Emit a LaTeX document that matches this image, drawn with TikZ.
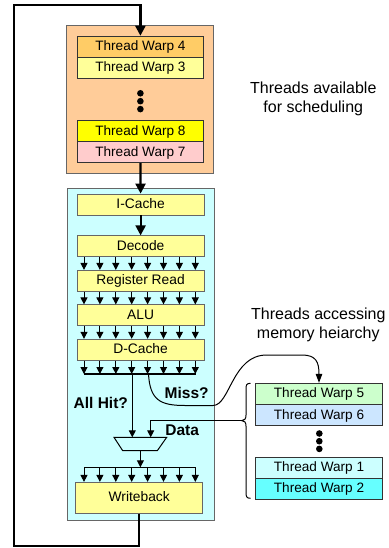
\documentclass[tikz,border=0pt]{standalone}
\usepackage{fontspec}
\setmainfont{Liberation Sans}
\usetikzlibrary{arrows.meta,calc}
\definecolor{orangebg}{HTML}{FFCC99}
\definecolor{wfour}{HTML}{FFCC66}
\definecolor{wthree}{HTML}{FFFF99}
\definecolor{weight}{HTML}{FFFF00}
\definecolor{wseven}{HTML}{FFCCCC}
\definecolor{cyanbg}{HTML}{CCFFFF}
\definecolor{stagec}{HTML}{FFFF99}
\definecolor{wfive}{HTML}{CCFFCC}
\definecolor{wsix}{HTML}{CCE6FF}
\definecolor{wone}{HTML}{CCFFFF}
\definecolor{wtwo}{HTML}{66FFFF}
\begin{document}
\begin{tikzpicture}[x=1pt,y=-1pt,
  bigbox/.style={draw=black!60, line width=0.8pt, inner sep=0pt},
  warp/.style={draw=black!80, line width=0.9pt, inner sep=0pt, minimum width=126.5, minimum height=21,
    font=\fontsize{13.6}{16}\selectfont, text height=9.8pt, text depth=1.8pt},
  stagebox/.style={draw=black!60, line width=0.8pt, fill=stagec, inner sep=0pt, minimum width=126.7, minimum height=21,
    font=\fontsize{13.8}{16}\selectfont, text height=9.8pt, text depth=1.8pt},
  dot/.style={circle, fill=black, inner sep=0pt, minimum size=6.6},
  note/.style={align=center, font=\fontsize{16}{18.6}\selectfont},
  boldlbl/.style={font=\bfseries\fontsize{15.5}{18}\selectfont},
  thick arrow/.style={line width=2.2pt, -{Triangle[length=10,width=10]}},
  sarrow/.style={line width=1pt, -{Triangle[length=7,width=7]}},
  tline/.style={line width=1pt},
  bar/.style={line width=1.6pt},
]
\useasboundingbox (0,0) rectangle (388,548);

% scheduler box
\node[bigbox, fill=orangebg, minimum width=146.6, minimum height=147.6] (sched) at (140,99.5) {};
\node[warp, fill=wfour] (w4) at (140.4,46.7) {Thread Warp 4};
\node[warp, fill=wthree] (w3) at (140.4,67.8) {Thread Warp 3};
\node[dot] (sd1) at (140.4,93.3) {};
\node[dot] (sd2) at (140.4,101.2) {};
\node[dot] (sd3) at (140.4,109.1) {};
\node[warp, fill=weight] (w8) at (140.4,131.2) {Thread Warp 8};
\node[warp, fill=wseven] (w7) at (140.4,152.2) {Thread Warp 7};

% pipeline box
\node[bigbox, fill=cyanbg, minimum width=146.7, minimum height=332.7] (pipe) at (140.7,354.4) {};
\node[stagebox] (icache) at (140.6,204.5) {I-Cache};
\node[stagebox] (decode) at (140.6,246.3) {Decode};
\node[stagebox] (regread) at (140.6,280.8) {Register Read};
\node[stagebox] (alu) at (140.6,315.3) {ALU};
\node[stagebox] (dcache) at (140.6,349.7) {D-Cache};
\node[stagebox, minimum width=127, minimum height=31] (wb) at (139.2,497.8) {Writeback};

% memory warps
\node[warp, fill=wfive] (w5) at (319,393.8) {Thread Warp 5};
\node[warp, fill=wsix] (w6) at (319,415) {Thread Warp 6};
\node[dot] (md1) at (319.3,433.5) {};
\node[dot] (md2) at (319.3,441.2) {};
\node[dot] (md3) at (319.3,448.9) {};
\node[warp, fill=wone] (w1) at (319,467.8) {Thread Warp 1};
\node[warp, fill=wtwo] (w2) at (319,488.8) {Thread Warp 2};

% notes
\node[note] (n1) at (313.3,98.7) {Threads available\\for scheduling};
\node[note] (n2) at (318.3,324.6) {Threads accessing\\memory heiarchy};
\node[boldlbl] (allhit) at (100.8,402.7) {All Hit?};
\node[boldlbl] (miss) at (186.7,393.3) {Miss?};
\node[boldlbl] (data) at (182.2,430) {Data};

% coordinates
\foreach \i in {0,...,7} {
  \pgfmathsetmacro\xx{84+15.9*\i}
  \coordinate (col\i) at (\xx,0);
}
\coordinate (bar1l) at (84,374);
\coordinate (bar1r) at (196,374);
\coordinate (bar2l) at (84,467.3);
\coordinate (bar2r) at (196,467.3);
\coordinate (hit) at (132.3,374);
\coordinate (missstart) at (148.5,374);
\coordinate (datax) at (150.7,0);
\coordinate (muxtl) at (114,437.3);
\coordinate (muxtr) at (166.7,437.3);
\coordinate (muxbr) at (157.3,450.7);
\coordinate (muxbl) at (122.7,450.7);
\coordinate (muxbot) at (140.4,450.7);
\coordinate (bracetip) at (241.7,420.6);
\coordinate (lb) at (14,546);
\coordinate (lt) at (14,4.7);

% main flow
\draw[thick arrow] (wb.south) -- (wb.south |- lb) -- (lb) -- (lt) -- (lt -| w4.north) -- (w4.north);
\draw[thick arrow] (w7.south) -- (icache.north);
\draw[thick arrow] (icache.south) -- (decode.north);

% parallel lanes
\foreach \i in {0,...,7} {
  \draw[sarrow] (decode.south -| col\i) -- (regread.north -| col\i);
  \draw[sarrow] (regread.south -| col\i) -- (alu.north -| col\i);
  \draw[sarrow] (alu.south -| col\i) -- (dcache.north -| col\i);
  \draw[sarrow] (dcache.south -| col\i) -- (bar1l -| col\i);
  \draw[sarrow] (bar2l -| col\i) -- (wb.north -| col\i);
}
\draw[bar] (bar1l) -- (bar1r);
\draw[bar] (bar2l) -- (bar2r);

% mux
\draw[tline] (muxtl) -- (muxtr) -- (muxbr) -- (muxbl) -- cycle;
\draw[sarrow] (hit) -- (hit |- muxtl);
\draw[sarrow] (bracetip) -- (bracetip -| datax) -- (datax |- muxtl);
\draw[sarrow] (muxbot) -- (muxbot |- bar2l);

% miss path
\draw[line width=1pt, -{Triangle[length=9,width=6.5]}] (missstart) .. controls (150,400) and (160,405.5) .. (185,405.5) -- (213,405.5)
  .. controls (230,405.5) and (232,355) .. (266.7,355) -- (302,355)
  .. controls (316,355) and (319,362) .. (w5.north);

% brace
\draw[tline] (250.5,383.3) .. controls (246.5,383.3) and (246,385) .. (246,389) -- (246,415)
  .. controls (246,419) and (244.5,420.6) .. (bracetip)
  .. controls (244.5,420.6) and (246,422.2) .. (246,426.2) -- (246,492.5)
  .. controls (246,496.5) and (246.5,498.3) .. (250.5,498.3);
\end{tikzpicture}
\end{document}
